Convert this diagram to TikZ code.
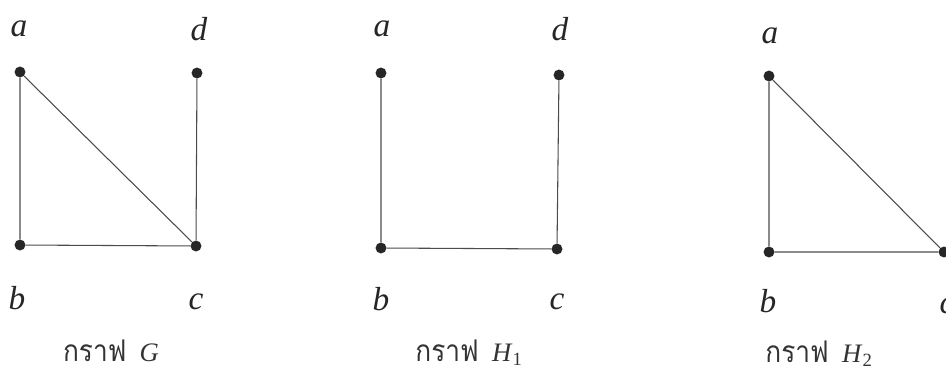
\documentclass[tikz,border=0pt]{standalone}
\usepackage{fontspec}
\setmainfont{Liberation Serif}
\newfontfamily\thaifont[Script=Thai,Scale=1.12,FakeStretch=0.88]{Loma}
\begin{document}
\begin{tikzpicture}[x=0.75pt,y=-0.75pt,
  vtx/.style={circle,fill=black!85,inner sep=0pt,minimum size=8.2pt},
  edge/.style={draw=black!70,line width=0.8pt},
  lbl/.style={font=\fontsize{25}{29}\selectfont\itshape,inner sep=0pt,text=black!85},
  captxt/.style={font=\fontsize{20}{24}\selectfont,inner sep=0pt,text=black!80}]
\clip (0,0) rectangle (946,371);
\fill[white] (0,0) rectangle (946,371);
% Graph G
\node[vtx] (ga) at (20,72) {};
\node[vtx] (gd) at (197,73) {};
\node[vtx] (gb) at (20,245) {};
\node[vtx] (gc) at (196,246) {};
\draw[edge] (ga) -- (gb) -- (gc) -- (gd);
\draw[edge] (ga) -- (gc);
\node[lbl] (gla) at (19,29) {a};
\node[lbl] (gld) at (199,29) {d};
\node[lbl] (glb) at (17,298) {b};
\node[lbl] (glc) at (196,302) {c};
\node[captxt] (gcap) at (111,351) {{\thaifont กราฟ}\ \ \textit{G}};
% Graph H1
\node[vtx] (ha) at (381,73) {};
\node[vtx] (hd) at (559,75) {};
\node[vtx] (hb) at (381,248) {};
\node[vtx] (hc) at (557,249) {};
\draw[edge] (ha) -- (hb) -- (hc) -- (hd);
\node[lbl] (hla) at (382,29) {a};
\node[lbl] (hld) at (560,29) {d};
\node[lbl] (hlb) at (381,299) {b};
\node[lbl] (hlc) at (557,302) {c};
\node[captxt] (hcap) at (469,353) {{\thaifont กราฟ}\ \ \textit{H}\textsubscript{1}};
% Graph H2
\node[vtx] (ka) at (769,76) {};
\node[vtx] (kb) at (769,252) {};
\node[vtx] (kc) at (944,252) {};
\draw[edge] (ka) -- (kb) -- (kc) -- (ka);
\node[lbl] (kla) at (770,36) {a};
\node[lbl] (klb) at (768,301) {b};
\node[lbl] (klc) at (947,306) {c};
\node[captxt] (kcap) at (819,354) {{\thaifont กราฟ}\ \ \textit{H}\textsubscript{2}};
\end{tikzpicture}
\end{document}
